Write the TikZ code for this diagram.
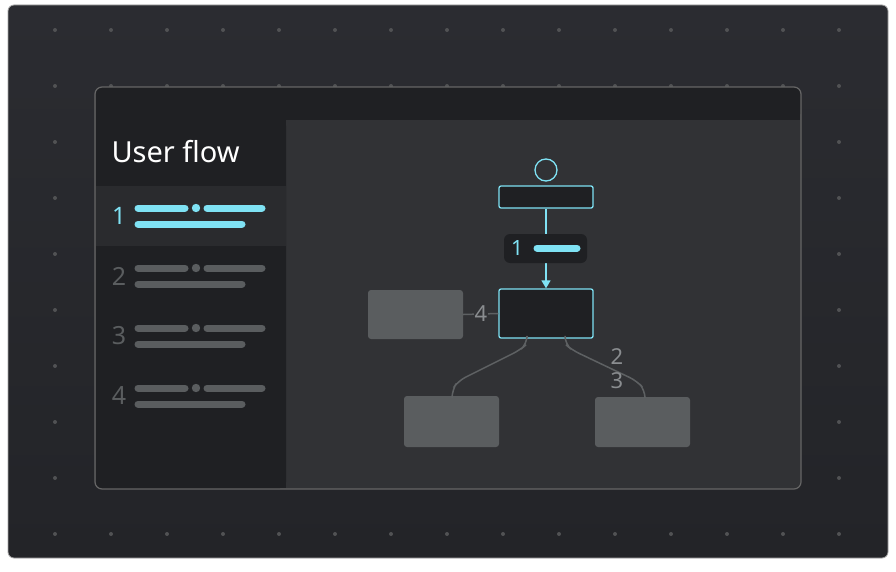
\documentclass[tikz,border=0pt]{standalone}
\usepackage{fontspec}
\setmainfont{Noto Sans}
\usetikzlibrary{arrows.meta}
\definecolor{bgA}{HTML}{2B2C31}
\definecolor{bgB}{HTML}{232428}
\definecolor{win}{HTML}{313235}
\definecolor{bar}{HTML}{1F2023}
\definecolor{act}{HTML}{2A2B2E}
\definecolor{cy}{HTML}{7FE2F4}
\definecolor{gbox}{HTML}{5A5D5F}
\definecolor{gline}{HTML}{5E6163}
\definecolor{gtxt}{HTML}{8A8D90}
\tikzset{
 pill/.style={line width=7pt,line cap=round},
 flowbox/.style={draw=cy,line width=1.3pt,fill=bar,rounded corners=2pt},
 greybox/.style={fill=gbox,rounded corners=3pt},
 conn/.style={draw=gline,line width=1.5pt},
 num/.style={font=\fontsize{25pt}{25pt}\selectfont,anchor=center}
}
\begin{document}
\begin{tikzpicture}[x=1pt,y=-1pt]
\useasboundingbox (0,0) rectangle (896,572);
\fill[white] (0,0) rectangle (896,572);
\shade[rounded corners=6pt,top color=bgA,bottom color=bgB,draw=gray!70,line width=0.8pt] (8,5) rectangle (888,558);
\foreach \x in {55,111,...,839} \foreach \y in {30,86,...,534}
  \fill[gray!45!bgA] (\x,\y) circle (2);
% window
\fill[win,draw=gray!80!black,line width=1.2pt,rounded corners=7pt] (95,87) rectangle (801,489);
\fill[bar,rounded corners=6pt] (96,88) rectangle (800,120);
\fill[bar] (96,110) rectangle (800,120);
\fill[bar,rounded corners=6pt] (96,120) rectangle (286,488);
\fill[bar] (276,120) rectangle (286,488);
\fill[bar] (96,120) rectangle (110,140);
\fill[act] (96,186) rectangle (286,246);
\node[anchor=west,text=white,font=\fontsize{29pt}{29pt}\selectfont] (title) at (108,152) {User flow};
\foreach \i/\c in {1/cy,2/gbox,3/gbox,4/gbox}{
  \pgfmathsetmacro{\yy}{208+60*(\i-1)}
  \ifnum\i=1 \node[num,text=cy,font=\bfseries\fontsize{24pt}{24pt}\selectfont] (n\i) at (119,\yy+8) {\i};
  \else \node[num,text=gbox] (n\i) at (119,\yy+8) {\i}; \fi
  \draw[pill,\c] (138,\yy) -- (185,\yy);
  \fill[\c] (196,\yy) circle (4.2);
  \draw[pill,\c] (207,\yy) -- (262,\yy);
  \draw[pill,\c] (138,\yy+16) -- (242,\yy+16);
}
% flow
\node[draw=cy,line width=1.3pt,circle,minimum size=22pt,inner sep=0] (start) at (546,170) {};
\node[flowbox,minimum width=94pt,minimum height=22pt] (b1) at (546,197) {};
\node[flowbox,minimum width=94pt,minimum height=49pt] (b2) at (546,313.5) {};
\draw[cy,line width=1.5pt,-{Triangle[length=8pt,width=9pt]}] (b1.south) -- (b2.north);
\node[fill=bar,rounded corners=6pt,minimum width=83pt,minimum height=29pt] (lab) at (545.5,248.5) {};
\node[text=cy,font=\bfseries\fontsize{21pt}{21pt}\selectfont] (l1) at (517,248) {1};
\draw[pill,cy] (537,248) -- (577,248);
\node[greybox,minimum width=95pt,minimum height=49pt] (L) at (415.5,314.5) {};
\node[greybox,minimum width=95pt,minimum height=51pt] (B1) at (451.5,421.5) {};
\node[greybox,minimum width=95pt,minimum height=50pt] (B2) at (642.5,422) {};
\draw[conn] (L.east) -- (b2.west);
\node[fill=win,inner sep=0.5pt,text=gtxt,font=\fontsize{22pt}{22pt}\selectfont] (t4) at (481,314) {4};
\coordinate (c1) at (527,338);
\coordinate (c2) at (565,338);
\draw[conn,rounded corners=8pt] (c1) -- (527,344) -- (520,350) -- (458,381) -- (452,390) -- (B1.north -| 452,0);
\draw[conn,rounded corners=8pt] (c2) -- (565,344) -- (572,350) -- (637,381) -- (645,390) -- (B2.north -| 645,0);
\node[text=gtxt,font=\fontsize{22pt}{22pt}\selectfont] (t2) at (617,357) {2};
\node[text=gtxt,font=\fontsize{22pt}{22pt}\selectfont] (t3) at (617,381) {3};
\end{tikzpicture}
\end{document}
